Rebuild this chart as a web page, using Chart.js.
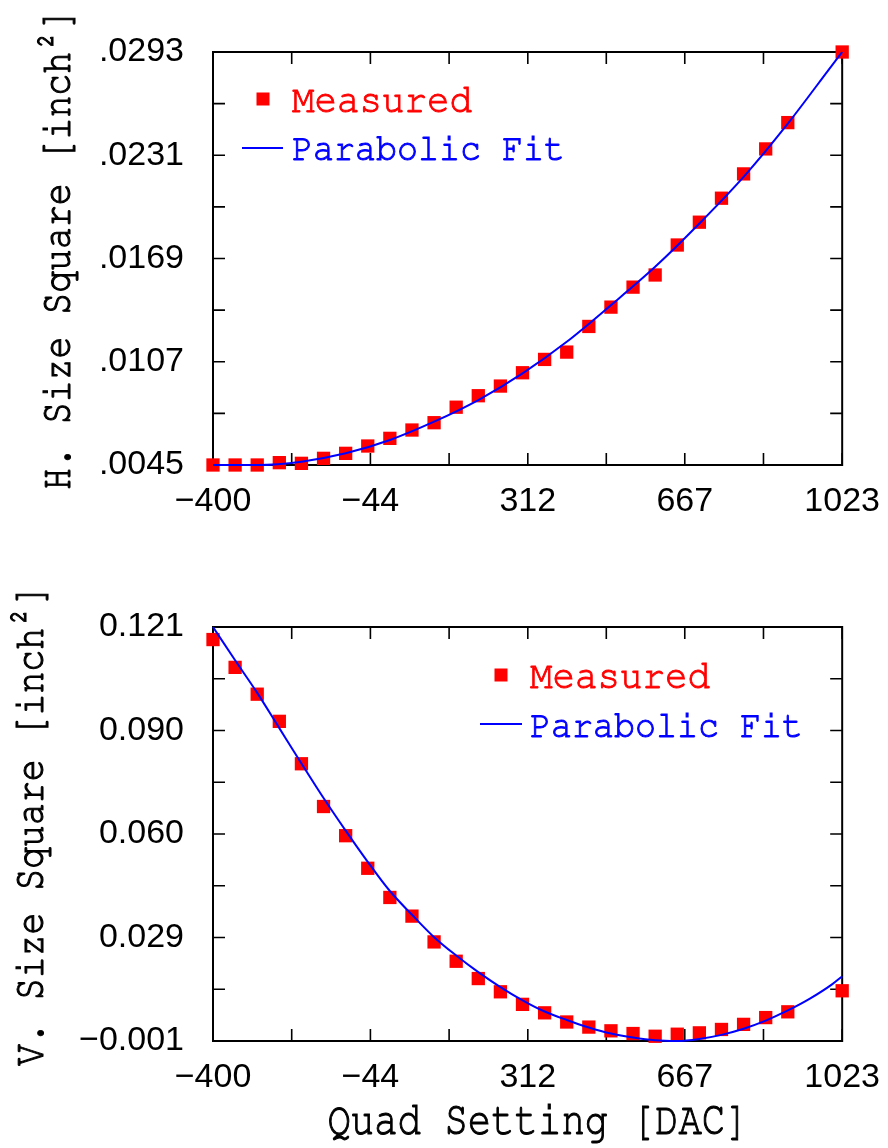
<!DOCTYPE html>
<html>
<head>
<meta charset="utf-8">
<script src="https://cdn.jsdelivr.net/npm/chart.js@4.4.1/dist/chart.umd.min.js"></script>
<style>
  html, body { margin: 0; padding: 0; background: #fff; }
  #wrap { position: relative; width: 888px; height: 1148px; }
  canvas { position: absolute; left: 0; }
</style>
</head>
<body>
<div id="wrap">
  <canvas id="topChart" width="888" height="560" style="top:0"></canvas>
  <canvas id="botChart" width="888" height="588" style="top:560px"></canvas>
</div>
<script>
// data
const quadSetting = [-400, -350, -300, -250, -200, -150, -100, -50, 0, 50, 100, 150, 200, 250,
    300, 350, 400, 450, 500, 550, 600, 650, 700, 750, 800, 850, 900, 1023];
const hSizeMeasured = [.0045, .0045, .0045, .00464, .0046, .0049, .0052, .00564, .0061, .0066, .00704,
    .00797, .00866, .00924, .01004, .01084, .01128, .01282, .01398, .01518, .01591, .01771, .01908,
    .02052, .02198, .02348, .02506, .0293];
const vSizeMeasured = [.1173, .1091, .1012, .0932, .0807, .0681, .0595, .0499, .0413, .0358, .0282,
    .0225, .0174, .0135, .0098, .0073, .0046, .0031, .0020, .0012, .0004, .0010, .0014, .0024, .0039,
    .0059, .0076, .0138];

const fitSettingH = [-400, -300, -200, -100, 0, 100, 200, 300, 400, 500, 600, 700, 800, 900, 1000, 1023];
const hSizeFit = [.0045, .0045, .0047, .0052, .0060, .0071, .0084, .0100, .0119, .0141, .0164, .0190,
    .0218, .0250, .0285, .0293];

const fitSettingV = [-400, -350, -300, -250, -200, -150, -100, -50, 0, 50, 100, 150, 200, 250, 300, 350,
    400, 450, 500, 550, 600, 650, 700, 750, 800, 850, 900, 950, 1000, 1023];
const vSizeFit = [.1210, .1112, .1016, .0912, .0808, .0706, .0610, .0518, .0432, .0362, .0296, .0242,
    .0193, .0149, .0110, .0077, .0052, .0030, .0012, .0000, -.0008, -.0010, -.0004, .0008, .0026, .0050,
    .0080, .0115, .0157, .0181];

const xTicks = [-400, -44, 312, 667, 1023];
const xTickLabels = ['\u2212400', '\u221244', '312', '667', '1023'];
const hTicks = [.0045, .0107, .0169, .0231, .0293];
const hTickLabels = ['.0045', '.0107', '.0169', '.0231', '.0293'];
const vTicks = [-0.001, 0.0295, 0.060, 0.0905, 0.121];
const vTickLabels = ['\u22120.001', '0.029', '0.060', '0.090', '0.121'];

const RED = '#ff0000';
const BLUE = '#0000ff';
const tickFont = { family: '"Liberation Sans", Arial, sans-serif', size: 34 };
const monoFont = 'FreeMono, "Liberation Mono", monospace';

// box + inward ticks on all four sides (majors and half-step minors)
const framePlugin = {
    id: 'frame',
    beforeDatasetsDraw(chart, args, opts) {
        const { ctx, chartArea: a, scales: { x, y } } = chart;
        const withMinors = v => {
            const out = [];
            v.forEach((t, i) => {
                out.push(t);
                if (i < v.length - 1) out.push((t + v[i + 1]) / 2);
            });
            return out;
        };
        const len = 12;
        ctx.save();
        ctx.strokeStyle = '#000';
        ctx.lineWidth = 1.6;
        ctx.beginPath();
        withMinors(opts.xTicks).forEach(v => {
            const p = x.getPixelForValue(v);
            ctx.moveTo(p, a.bottom); ctx.lineTo(p, a.bottom - len);
            ctx.moveTo(p, a.top); ctx.lineTo(p, a.top + len);
        });
        withMinors(opts.yTicks).forEach(v => {
            const p = y.getPixelForValue(v);
            ctx.moveTo(a.left, p); ctx.lineTo(a.left + len, p);
            ctx.moveTo(a.right, p); ctx.lineTo(a.right - len, p);
        });
        ctx.stroke();
        ctx.lineWidth = 2;
        ctx.strokeRect(a.left, a.top, a.right - a.left, a.bottom - a.top);
        ctx.restore();
    }
};

function drawText(ctx, text, x, y, size, color, stretch, align, rotated) {
    ctx.save();
    ctx.translate(x, y);
    if (rotated) ctx.rotate(-Math.PI / 2);
    ctx.scale(1, stretch);
    ctx.font = size + 'px ' + monoFont;
    ctx.fillStyle = color;
    ctx.strokeStyle = color;
    ctx.lineWidth = 0.9;
    ctx.textAlign = align;
    ctx.textBaseline = 'alphabetic';
    ctx.fillText(text, 0, 0);
    ctx.strokeText(text, 0, 0);
    ctx.restore();
}

// axis titles and the in-plot legend
const decorPlugin = {
    id: 'decor',
    afterDraw(chart, args, o) {
        const ctx = chart.ctx;
        drawText(ctx, o.yTitle, o.yTitleX, o.yTitleY, 36.5, '#000', 1.2, 'center', true);
        if (o.xTitle) drawText(ctx, o.xTitle, o.xTitleX, o.xTitleY, 39, '#000', 1.2, 'center', false);

        const L = o.legend;
        ctx.save();
        ctx.fillStyle = RED;
        ctx.fillRect(L.markX - 6.5, L.markY - 6.5, 13, 13);
        ctx.strokeStyle = BLUE;
        ctx.lineWidth = 2;
        ctx.beginPath();
        ctx.moveTo(L.lineX0, L.lineY);
        ctx.lineTo(L.lineX1, L.lineY);
        ctx.stroke();
        ctx.restore();
        drawText(ctx, 'Measured', L.textX, L.row1, 37.5, RED, 1.05, 'left', false);
        drawText(ctx, 'Parabolic Fit', L.textX, L.row2, 35, BLUE, 1.1, 'left', false);
    }
};

function makeChart(id, opt) {
    const ctx = document.getElementById(id).getContext('2d');
    return new Chart(ctx, {
        type: 'scatter',
        data: {
            datasets: [
                {
                    label: 'Parabolic Fit',
                    data: opt.fitX.map((v, i) => ({ x: v, y: opt.fitY[i] })),
                    showLine: true,
                    borderColor: BLUE,
                    borderWidth: 2,
                    pointRadius: 0,
                    cubicInterpolationMode: 'monotone',
                    clip: false,
                    order: 0
                },
                {
                    label: 'Measured',
                    data: quadSetting.map((v, i) => ({ x: v, y: opt.measured[i] })),
                    pointStyle: 'rect',
                    pointRadius: 9.4,
                    backgroundColor: RED,
                    borderWidth: 0,
                    clip: false,
                    order: 1
                }
            ]
        },
        options: {
            responsive: false,
            animation: false,
            layout: { padding: { left: 0, right: 41, top: opt.padTop, bottom: 0 } },
            plugins: {
                legend: { display: false },
                tooltip: { enabled: false },
                frame: { xTicks: xTicks, yTicks: opt.yTicks },
                decor: opt.decor
            },
            scales: {
                x: {
                    type: 'linear',
                    position: 'bottom',
                    min: -400,
                    max: 1023,
                    grid: { display: false },
                    border: { display: false },
                    afterFit: s => { s.height = opt.xAxisHeight; },
                    afterBuildTicks: s => { s.ticks = xTicks.map(v => ({ value: v })); },
                    ticks: {
                        autoSkip: false,
                        maxRotation: 0,
                        padding: 8,
                        color: '#000',
                        font: tickFont,
                        callback: (v, i) => xTickLabels[i]
                    }
                },
                y: {
                    type: 'linear',
                    position: 'left',
                    min: opt.yTicks[0],
                    max: opt.yTicks[opt.yTicks.length - 1],
                    grid: { display: false },
                    border: { display: false },
                    afterFit: s => { s.width = 213; },
                    afterBuildTicks: s => { s.ticks = opt.yTicks.map(v => ({ value: v })); },
                    ticks: {
                        autoSkip: false,
                        padding: 21,
                        color: '#000',
                        font: tickFont,
                        callback: (v, i) => opt.yLabels[i]
                    }
                }
            }
        },
        plugins: [framePlugin, decorPlugin]
    });
}

makeChart('topChart', {
    measured: hSizeMeasured,
    fitX: fitSettingH,
    fitY: hSizeFit,
    yTicks: hTicks,
    yLabels: hTickLabels,
    padTop: 52,
    xAxisHeight: 95,
    decor: {
        yTitle: 'H. Size Square [inch\u00b2]', yTitleX: 70, yTitleY: 249,
        legend: { markX: 263, markY: 99, lineX0: 242, lineX1: 283, lineY: 148, textX: 292, row1: 112, row2: 160 }
    }
});

makeChart('botChart', {
    measured: vSizeMeasured,
    fitX: fitSettingV,
    fitY: vSizeFit,
    yTicks: vTicks,
    yLabels: vTickLabels,
    padTop: 67,
    xAxisHeight: 107,
    decor: {
        yTitle: 'V. Size Square [inch\u00b2]', yTitleX: 43, yTitleY: 265,
        xTitle: 'Quad Setting [DAC]', xTitleX: 538, xTitleY: 574,
        legend: { markX: 501, markY: 115, lineX0: 480, lineX1: 522, lineY: 164, textX: 530, row1: 128, row2: 177 }
    }
});
</script>
</body>
</html>
